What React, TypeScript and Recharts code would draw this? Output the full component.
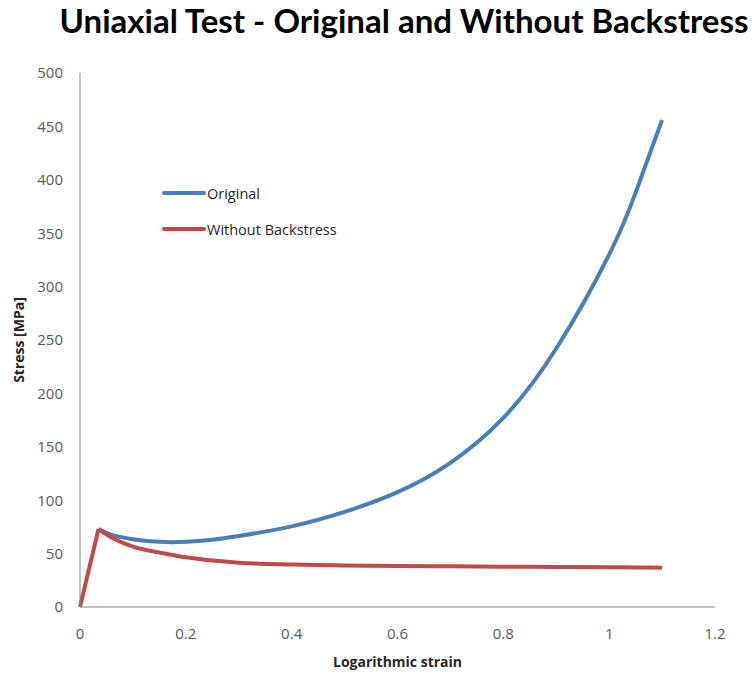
import { LineChart, Line, XAxis, YAxis, Legend } from "recharts";

// Elastic loading segment (straight line up to yield)
const elasticStrain = [0, 0.035];
const elasticStress = [0, 73];

// Plastic part, starting at the yield point
const strain = [0.035, 0.06, 0.1, 0.15, 0.2, 0.25, 0.3, 0.4, 0.5, 0.6, 0.7, 0.8, 0.9, 1.0, 1.05, 1.1];
const original = [73, 67.5, 63.5, 61, 61, 63, 66.5, 75.5, 89, 107.5, 135, 177, 242, 330, 388, 456];
const withoutBackstress = [73, 65, 56.5, 51, 46.5, 43.5, 41.5, 39.8, 38.9, 38.4, 38.1, 37.8, 37.5, 37.2, 37, 36.8];

const xTicks = [0, 0.2, 0.4, 0.6, 0.8, 1, 1.2];
const yTicks = [0, 50, 100, 150, 200, 250, 300, 350, 400, 450, 500];

const BLUE = "#4a7ebb";
const RED = "#be4b48";
const FONT = "'Open Sans', sans-serif";

type Row = { x: number; elastic?: number; original?: number; noBackstress?: number };

const rows: Record<string, Row> = {};
elasticStrain.forEach((x, i) => {
  rows[x] = { ...(rows[x] || { x }), elastic: elasticStress[i] };
});
strain.forEach((x, i) => {
  rows[x] = { ...(rows[x] || { x }), original: original[i], noBackstress: withoutBackstress[i] };
});
const data = Object.values(rows).sort((a, b) => a.x - b.x);

function LegendBox({ payload }: any) {
  const items = (payload || []).filter((p: any) => p.type !== "none");
  return (
    <div style={{ fontFamily: FONT, fontSize: 14.5, color: "#262626" }}>
      {items.map((p: any) => (
        <div key={p.value} style={{ display: "flex", alignItems: "center", height: 36 }}>
          <span style={{ display: "inline-block", width: 44, height: 4, background: p.color, borderRadius: 2 }} />
          <span style={{ marginLeft: 1 }}>{p.value}</span>
        </div>
      ))}
    </div>
  );
}

export default function App() {
  const tickStyle = { fontFamily: FONT, fontSize: 15, fill: "#595959" };
  return (
    <div style={{ position: "absolute", left: 0, top: 0, width: 752, height: 675, background: "#fff" }}>
      <div
        style={{
          position: "absolute",
          left: 0,
          width: 808,
          top: 0,
          textAlign: "center",
          fontFamily: "Lato, sans-serif",
          fontWeight: 700,
          fontSize: 33,
          color: "#000",
        }}
      >
        Uniaxial Test - Original and Without Backstress
      </div>
      <div
        style={{
          position: "absolute",
          left: 80,
          width: 635,
          top: 652,
          textAlign: "center",
          fontFamily: FONT,
          fontWeight: 700,
          fontSize: 14,
          color: "#262626",
        }}
      >
        Logarithmic strain
      </div>
      <div
        style={{
          position: "absolute",
          left: 18,
          top: 340,
          transform: "translate(-50%, -50%) rotate(-90deg)",
          whiteSpace: "nowrap",
          fontFamily: FONT,
          fontWeight: 700,
          fontSize: 14,
          color: "#262626",
        }}
      >
        Stress [MPa]
      </div>
      <LineChart width={752} height={675} data={data} margin={{ top: 73, right: 37, bottom: 38, left: 20 }}>
        <XAxis
          dataKey="x"
          type="number"
          domain={[0, 1.2]}
          ticks={xTicks}
          tickLine={false}
          tickSize={0}
          tickMargin={21}
          height={30}
          stroke="#868686"
          tick={tickStyle}
        />
        <YAxis
          type="number"
          domain={[0, 500]}
          ticks={yTicks}
          tickLine={false}
          tickSize={0}
          tickMargin={17}
          width={60}
          stroke="#868686"
          tick={tickStyle}
        />
        {/* floating legend inside the plot; centre/middle keeps it from reserving margin */}
        <Legend
          layout="vertical"
          verticalAlign="middle"
          align="center"
          content={<LegendBox />}
          wrapperStyle={{ left: 162, top: 175, width: 240 }}
        />
        <Line
          name="Original"
          dataKey="original"
          type="natural"
          stroke={BLUE}
          strokeWidth={4}
          dot={false}
          isAnimationActive={false}
        />
        <Line
          name="Without Backstress"
          dataKey="noBackstress"
          type="monotone"
          stroke={RED}
          strokeWidth={4}
          dot={false}
          isAnimationActive={false}
        />
        {/* shared elastic part, drawn last so the red sits on top */}
        <Line
          name="elastic"
          dataKey="elastic"
          type="linear"
          legendType="none"
          stroke={RED}
          strokeWidth={4}
          strokeLinejoin="miter"
          dot={false}
          isAnimationActive={false}
        />
      </LineChart>
    </div>
  );
}
